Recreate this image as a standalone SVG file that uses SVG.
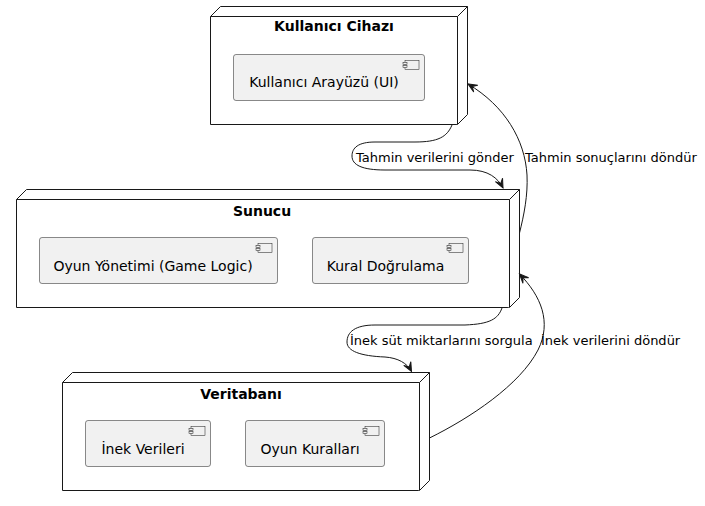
<svg xmlns="http://www.w3.org/2000/svg" width="705" height="506" viewBox="0 0 705 506">
<style>
.node{fill:#FFFFFF;stroke:#181818;stroke-width:1}
.comp{fill:#F1F1F1;stroke:#181818;stroke-width:0.5}
.icon{fill:#F1F1F1;stroke:#181818;stroke-width:0.5}
.title{font-family:"DejaVu Sans",sans-serif;font-size:14px;font-weight:bold;fill:#000;text-anchor:middle}
.ctext{font-family:"DejaVu Sans",sans-serif;font-size:14px;fill:#000;text-anchor:middle}
.lbl{font-family:"DejaVu Sans",sans-serif;font-size:13px;fill:#000}
.edge{fill:none;stroke:#181818;stroke-width:1}
</style>
<defs>
<marker id="arr" markerUnits="userSpaceOnUse" markerWidth="12" markerHeight="10" viewBox="-10 -5 12 10" refX="0" refY="0" orient="auto">
<path d="M0,0 L-9,-4 L-5,0 L-9,4 Z" fill="#181818" stroke="#181818" stroke-width="1"/>
</marker>
<g id="cicon">
<rect class="icon" x="0" y="0" width="14" height="9"/>
<rect class="icon" x="-2" y="2" width="4" height="2"/>
<rect class="icon" x="-2" y="5" width="4" height="2"/>
</g>
</defs>

<g id="node-kullanici-cihazi">
<path class="node" d="M210.5,16.5 L220.5,6.5 L467.5,6.5 L467.5,114.5 L457.5,124.5 L210.5,124.5 Z"/>
<path class="node" d="M457.5,124.5 L457.5,16.5 L210.5,16.5 M457.5,16.5 L467.5,6.5"/>
<text class="title" x="334" y="31">Kullanıcı Cihazı</text>
<g id="comp-ui">
<rect class="comp" x="233.5" y="54.5" width="191" height="46" rx="2.5"/>
<use href="#cicon" x="405" y="60.5"/>
<text class="ctext" x="324" y="87">Kullanıcı Arayüzü (UI)</text>
</g>
</g>

<g id="node-sunucu">
<path class="node" d="M16.5,199.5 L26.5,189.5 L519.5,189.5 L519.5,297.5 L509.5,307.5 L16.5,307.5 Z"/>
<path class="node" d="M509.5,307.5 L509.5,199.5 L16.5,199.5 M509.5,199.5 L519.5,189.5"/>
<text class="title" x="262" y="215.5">Sunucu</text>
<g id="comp-oyun-yonetimi">
<rect class="comp" x="39.5" y="237.5" width="238" height="46" rx="2.5"/>
<use href="#cicon" x="258" y="243.5"/>
<text class="ctext" x="153" y="270.5">Oyun Yönetimi (Game Logic)</text>
</g>
<g id="comp-kural-dogrulama">
<rect class="comp" x="312.5" y="237.5" width="156" height="46" rx="2.5"/>
<use href="#cicon" x="449" y="243.5"/>
<text class="ctext" x="385.5" y="270.5">Kural Doğrulama</text>
</g>
</g>

<g id="node-veritabani">
<path class="node" d="M62.5,382.5 L72.5,372.5 L429.5,372.5 L429.5,480.5 L419.5,490.5 L62.5,490.5 Z"/>
<path class="node" d="M419.5,490.5 L419.5,382.5 L62.5,382.5 M419.5,382.5 L429.5,372.5"/>
<text class="title" x="241" y="398.5">Veritabanı</text>
<g id="comp-inek-verileri">
<rect class="comp" x="85.5" y="420.5" width="125" height="46" rx="2.5"/>
<use href="#cicon" x="191" y="426.5"/>
<text class="ctext" x="143" y="454">İnek Verileri</text>
</g>
<g id="comp-oyun-kurallari">
<rect class="comp" x="245.5" y="420.5" width="139" height="46" rx="2.5"/>
<use href="#cicon" x="365" y="426.5"/>
<text class="ctext" x="310" y="454">Oyun Kuralları</text>
</g>
</g>

<g id="connectors">
<path class="edge" marker-end="url(#arr)" d="M452,125 C447,137 438,142 415,142 L375,142 C358,142 352,148 352,156 C352,165 362,170 385,170 L470,170 C488,170 498,178 503,188"/>
<path class="edge" marker-end="url(#arr)" d="M519.5,233 C524,215 528,195 527,175 C525,140 505,106 468,84"/>
<path class="edge" marker-end="url(#arr)" d="M502,308 C498,319 490,324 465,325 L375,325 C355,325 347,332 347,342 C347,351 360,356 385,357 C398,358 407,363 411.5,371.5"/>
<path class="edge" marker-end="url(#arr)" d="M429.5,438 C470,418 520,385 538,350 C552,322 541,296 519.5,274"/>
<text class="lbl" x="356" y="161.5">Tahmin verilerini gönder</text>
<text class="lbl" x="525" y="161.5">Tahmin sonuçlarını döndür</text>
<text class="lbl" x="350" y="344.5">İnek süt miktarlarını sorgula</text>
<text class="lbl" x="541" y="344.5">İnek verilerini döndür</text>
</g>
</svg>
